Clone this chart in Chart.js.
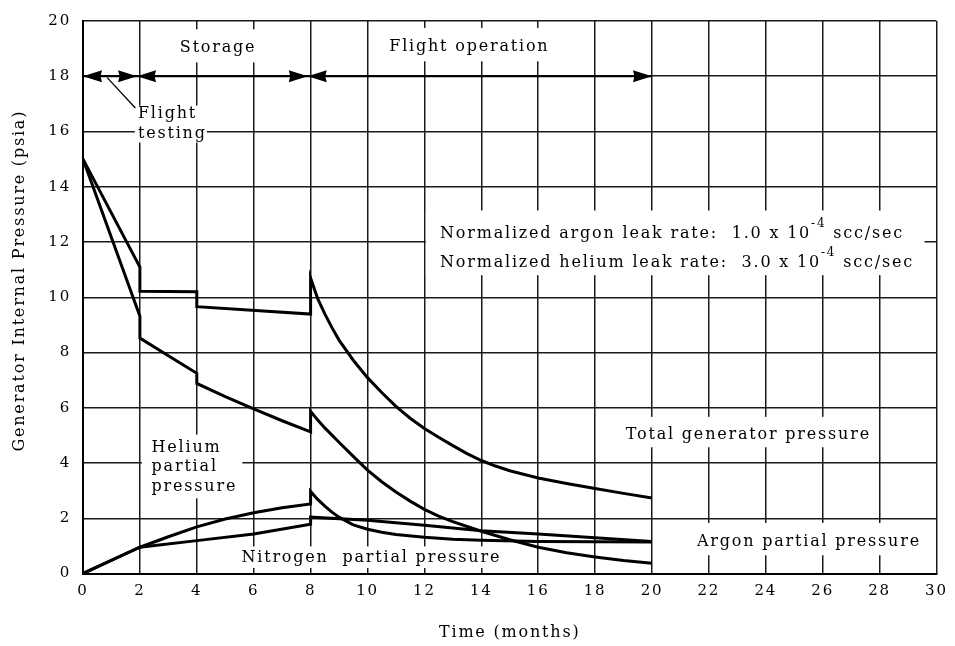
<!DOCTYPE html>
<html>
<head>
<meta charset="utf-8">
<script src="https://cdn.jsdelivr.net/npm/chart.js@4.4.1/dist/chart.umd.min.js"></script>
<style>
  html, body { margin: 0; padding: 0; background: #fff; }
</style>
</head>
<body>
<canvas id="pressure-chart" width="955" height="646"></canvas>
<script>
// values (months, psia); repeated months are the step changes
const totalMonths = [0, 2, 2, 4, 4, 8, 8, 8.25, 8.5, 8.75, 9, 9.5, 10, 10.5, 11, 11.5, 12, 12.5, 13, 13.5, 14, 14.5, 15, 16, 17, 18, 19, 20]
const totalPsia = [15, 11.09, 10.22, 10.2, 9.66, 9.39, 10.7, 9.95, 9.4, 8.9, 8.45, 7.72, 7.09, 6.55, 6.05, 5.62, 5.25, 4.93, 4.63, 4.34, 4.09, 3.89, 3.72, 3.46, 3.26, 3.08, 2.9, 2.73]

const heliumMonths = [0, 2, 2, 3, 4, 4, 5, 6, 7, 8, 8, 8.25, 8.5, 9, 9.5, 10, 10.5, 11, 11.5, 12, 12.5, 13, 13.5, 14, 15, 16, 17, 18, 19, 20]
const heliumPsia = [15, 9.31, 8.52, 7.88, 7.25, 6.88, 6.4, 5.96, 5.53, 5.13, 5.87, 5.56, 5.27, 4.75, 4.24, 3.74, 3.32, 2.95, 2.62, 2.32, 2.08, 1.88, 1.7, 1.53, 1.22, 0.95, 0.75, 0.6, 0.47, 0.37]

const nitrogenMonths = [0, 1, 2, 3, 4, 5, 6, 7, 8, 8, 8.25, 8.5, 8.75, 9, 9.5, 10, 10.5, 11, 12, 13, 14, 16, 18, 20]
const nitrogenPsia = [0, 0.48, 0.95, 1.33, 1.69, 1.97, 2.2, 2.38, 2.52, 2.97, 2.68, 2.44, 2.22, 2.04, 1.76, 1.6, 1.49, 1.41, 1.31, 1.24, 1.2, 1.16, 1.15, 1.14]

const argonMonths = [0, 2, 4, 6, 8, 8, 10, 12, 14, 16, 18, 20]
const argonPsia = [0, 0.95, 1.19, 1.43, 1.78, 2.04, 1.93, 1.75, 1.55, 1.43, 1.29, 1.16]

// phase bar at 18 psia: arrow tips (month, direction)
const phaseLevel = 18
const phaseEnd = 20
const phaseArrows = [[0, -1], [1.9, 1], [1.9, -1], [7.9, 1], [7.9, -1], [20, 1]]

const FONT = '"DejaVu Serif", "Liberation Serif", serif'
const SPACING = '1.8px'

// white patches behind the labels [x0, x1, yTop, yBottom] in data units
const labelPatches = [
  [3.33, 6.28, 19.7, 18.5],
  [10.7, 16.46, 19.75, 18.54],
  [1.82, 4.35, 16.94, 15.6],
  [2.07, 5.6, 5.03, 2.72],
  [5.44, 14.75, 0.98, 0.2],
  [18.84, 27.68, 5.67, 4.57],
  [21.3, 29.6, 1.83, 0.66],
  [12.05, 29.58, 13.14, 10.8],
]

const notes = [
  { x: 4.75, y: 18.87, align: 'center', parts: ['Storage'] },
  { x: 13.58, y: 18.9, align: 'center', parts: ['Flight operation'] },
  { x: 1.93, y: 16.48, parts: ['Flight'] },
  { x: 1.93, y: 15.77, parts: ['testing'] },
  { x: 2.41, y: 4.39, parts: ['Helium'] },
  { x: 2.41, y: 3.7, parts: ['partial'] },
  { x: 2.41, y: 3.0, parts: ['pressure'] },
  { x: 5.57, y: 0.42, parts: ['Nitrogen  partial pressure'] },
  { x: 19.08, y: 4.86, parts: ['Total generator pressure'] },
  { x: 21.58, y: 1.01, parts: ['Argon partial pressure'] },
  { x: 12.55, y: 12.16, parts: ['Normalized argon leak rate:  1.0 x 10', '-4', ' scc/sec'] },
  { x: 12.55, y: 11.1, parts: ['Normalized helium leak rate:  3.0 x 10', '-4', ' scc/sec'] },
]

const yTitle = 'Generator Internal Pressure (psia)'
const yTitleCenter = 10.6

const toPoints = (xs, ys) => xs.map((m, i) => ({ x: m, y: ys[i] }))

const lineStyle = {
  showLine: true,
  borderColor: '#000',
  backgroundColor: '#000',
  borderWidth: 3,
  pointRadius: 0,
  tension: 0,
}

const paperPlugin = {
  id: 'paper',
  beforeDraw(chart) {
    chart.ctx.letterSpacing = SPACING
  },
  beforeDatasetsDraw(chart) {
    const { ctx, scales } = chart
    const sx = scales.x
    const sy = scales.y
    ctx.save()

    ctx.fillStyle = '#fff'
    labelPatches.forEach(([x0, x1, y0, y1]) => {
      const l = sx.getPixelForValue(x0)
      const t = sy.getPixelForValue(y0)
      ctx.fillRect(l, t, sx.getPixelForValue(x1) - l, sy.getPixelForValue(y1) - t)
    })

    // heavier phase line and the flight testing leader
    ctx.strokeStyle = '#000'
    ctx.lineWidth = 2.2
    ctx.beginPath()
    ctx.moveTo(sx.getPixelForValue(0), sy.getPixelForValue(phaseLevel))
    ctx.lineTo(sx.getPixelForValue(phaseEnd), sy.getPixelForValue(phaseLevel))
    ctx.stroke()
    ctx.lineWidth = 1.3
    ctx.beginPath()
    ctx.moveTo(sx.getPixelForValue(0.85), sy.getPixelForValue(17.95))
    ctx.lineTo(sx.getPixelForValue(1.84), sy.getPixelForValue(16.85))
    ctx.stroke()

    ctx.fillStyle = '#000'
    phaseArrows.forEach(([tip, dir]) => {
      const px = sx.getPixelForValue(tip)
      const py = sy.getPixelForValue(phaseLevel)
      const len = 19 * dir
      ctx.beginPath()
      ctx.moveTo(px, py)
      ctx.lineTo(px - len, py - 6)
      ctx.lineTo(px - len * 0.92, py)
      ctx.lineTo(px - len, py + 6)
      ctx.closePath()
      ctx.fill()
    })

    ctx.textBaseline = 'alphabetic'
    ctx.textAlign = 'left'
    ctx.letterSpacing = SPACING
    notes.forEach((note) => {
      const fonts = note.parts.map((p, i) => (i % 2 ? `12px ${FONT}` : `16px ${FONT}`))
      const widths = note.parts.map((p, i) => {
        ctx.font = fonts[i]
        return ctx.measureText(p).width
      })
      const total = widths.reduce((a, b) => a + b, 0)
      let px = sx.getPixelForValue(note.x)
      if (note.align === 'center') px -= total / 2
      const py = sy.getPixelForValue(note.y)
      note.parts.forEach((p, i) => {
        ctx.font = fonts[i]
        ctx.fillText(p, px, i % 2 ? py - 11 : py)
        px += widths[i]
      })
    })

    // y axis title, drawn here so it sits where the original has it
    ctx.font = `16px ${FONT}`
    ctx.textAlign = 'center'
    ctx.textBaseline = 'middle'
    ctx.translate(20, sy.getPixelForValue(yTitleCenter))
    ctx.rotate(-Math.PI / 2)
    ctx.fillText(yTitle, 0, 0)
    ctx.restore()
  },
}

const ctx = document.getElementById('pressure-chart').getContext('2d')

new Chart(ctx, {
  type: 'scatter',
  data: {
    datasets: [
      { label: 'Total generator pressure', data: toPoints(totalMonths, totalPsia), ...lineStyle },
      { label: 'Helium partial pressure', data: toPoints(heliumMonths, heliumPsia), ...lineStyle },
      { label: 'Nitrogen partial pressure', data: toPoints(nitrogenMonths, nitrogenPsia), ...lineStyle },
      { label: 'Argon partial pressure', data: toPoints(argonMonths, argonPsia), ...lineStyle },
    ],
  },
  options: {
    responsive: false,
    animation: false,
    devicePixelRatio: 1,
    layout: { padding: { top: 11, right: 17, left: 0, bottom: 0 } },
    plugins: {
      legend: { display: false },
      tooltip: { enabled: false },
    },
    scales: {
      x: {
        type: 'linear',
        min: 0,
        max: 30,
        afterFit: (scale) => { scale.height = 72.5 },
        ticks: { stepSize: 2, color: '#000', padding: 9, maxRotation: 0, font: { family: FONT, size: 15 } },
        grid: { color: '#1a1a1a', lineWidth: 1.5, drawTicks: false },
        border: { color: '#000', width: 2 },
        title: {
          display: true,
          text: 'Time (months)',
          color: '#000',
          font: { family: FONT, size: 16 },
          padding: { top: 0, bottom: 4 },
        },
      },
      y: {
        min: 0,
        max: 20,
        afterFit: (scale) => { scale.width = 83 },
        ticks: { stepSize: 2, color: '#000', padding: 12, font: { family: FONT, size: 15 } },
        grid: { color: '#1a1a1a', lineWidth: 1.5, drawTicks: false },
        border: { color: '#000', width: 2 },
      },
    },
  },
  plugins: [paperPlugin],
})
</script>
</body>
</html>
